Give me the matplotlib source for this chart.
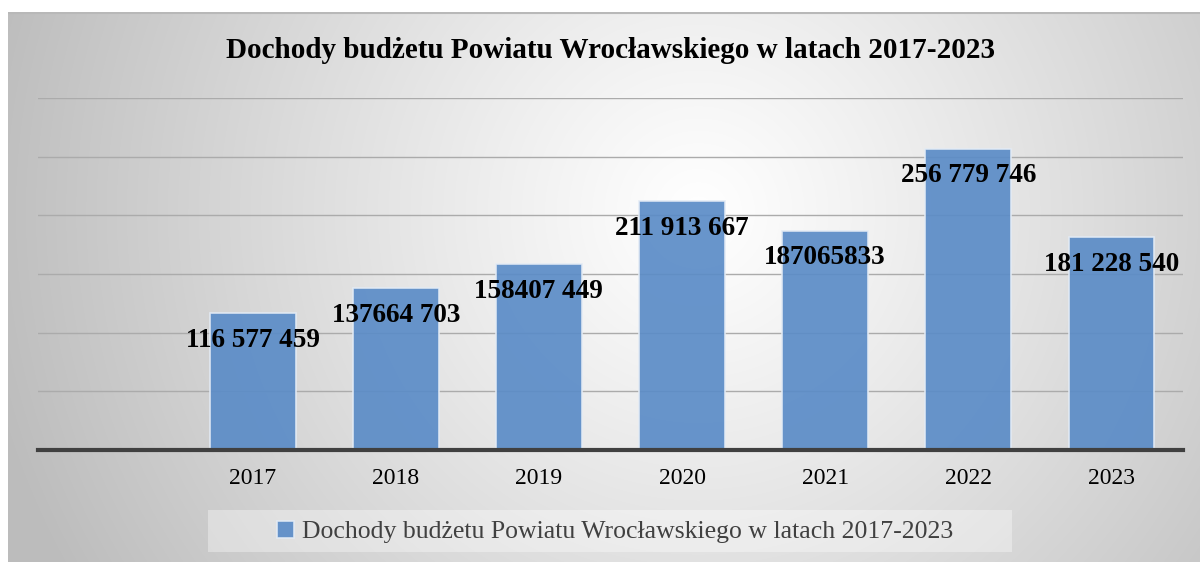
import numpy as np
import matplotlib
matplotlib.use("Agg")
import matplotlib.pyplot as plt
from matplotlib.patches import Rectangle

# ---- data ----
years = ["2017", "2018", "2019", "2020", "2021", "2022", "2023"]
values = [116577459, 137664703, 158407449, 211913667, 187065833, 256779746, 181228540]
value_labels = ["116 577 459", "137664 703", "158407 449", "211 913 667",
                "187065833", "256 779 746", "181 228 540"]
title = "Dochody budżetu Powiatu Wrocławskiego w latach 2017-2023"
series_name = "Dochody budżetu Powiatu Wrocławskiego w latach 2017-2023"

W, H = 1200, 562
fig = plt.figure(figsize=(W / 100, H / 100), dpi=100, facecolor="white")

# ---- gradient background ----
bx0, by_top = 8, 12
bg = fig.add_axes([bx0 / W, 0, 1 - bx0 / W, 1 - by_top / H], zorder=0)
bw, bh = W - bx0, H - by_top
xx, yy = np.meshgrid(np.arange(bw), np.arange(bh))
cx, cy = 690, 200
d = np.sqrt((xx - cx) ** 2 + (yy - cy) ** 2) / 700.0
v = np.clip(1 - 0.25 * d ** 1.1, 0.74, 1.0)
img = np.dstack([v, v, v])
bg.imshow(img, aspect="auto", extent=(0, bw, bh, 0), interpolation="bilinear")
bg.plot([0, bw], [0.5, 0.5], color="#b8b8b8", lw=1.5)
bg.set_xlim(0, bw)
bg.set_ylim(bh, 0)
bg.axis("off")

# ---- main axes ----
left, right = 38, 1183
top, base = 98, 450
ax = fig.add_axes([left / W, 1 - base / H, (right - left) / W, (base - top) / H], zorder=2)
ax.patch.set_alpha(0)

x = np.arange(1, len(years) + 1)
bars = ax.bar(x, values, width=0.6, color="#5b8cc7", alpha=0.92,
              edgecolor="#e3ebf5", linewidth=1.2, zorder=2, label=series_name)

ax.set_xlim(-0.5, 7.5)
ax.set_ylim(0, 300_000_000)
ax.set_yticks(np.arange(50_000_000, 300_000_001, 50_000_000))
ax.yaxis.grid(True, color="#ababab", linewidth=1.0, zorder=1)
ax.set_axisbelow(True)
ax.tick_params(axis="y", left=False, labelleft=False)
ax.set_xticks(x)
ax.set_xticklabels(years, fontfamily="Liberation Serif", fontsize=17, color="black")
ax.tick_params(axis="x", length=0, pad=13)
for s in ["top", "right", "left"]:
    ax.spines[s].set_visible(False)
ax.spines["bottom"].set_color("#404040")
ax.spines["bottom"].set_linewidth(3)
ax.spines["bottom"].set_zorder(4)

for xi, val, lab in zip(x, values, value_labels):
    ax.annotate(lab, xy=(xi, val), xytext=(0, -27), textcoords="offset pixels",
                ha="center", va="center", fontfamily="Liberation Serif",
                fontweight="bold", fontsize=19.5, color="black", zorder=5)

# ---- title ----
fig.text(610 / W, 1 - 50 / H, title, ha="center", va="center",
         fontfamily="Liberation Serif", fontweight="bold", fontsize=21, color="black")

# ---- legend ----
fig.patches.append(Rectangle((208 / W, 1 - 552 / H), (1012 - 208) / W, 42 / H,
                             transform=fig.transFigure, facecolor="white",
                             alpha=0.35, edgecolor="none", zorder=1))
leg = ax.legend(handles=[bars], labels=[series_name], loc="center",
                bbox_to_anchor=(615 / W, 1 - 532 / H), bbox_transform=fig.transFigure,
                frameon=False, handlelength=0.65, handleheight=0.65, handletextpad=0.3,
                prop={"family": "Liberation Serif", "size": 18.5})
for t in leg.get_texts():
    t.set_color("#404040")

fig.savefig("out.png", dpi=100, facecolor="white")
